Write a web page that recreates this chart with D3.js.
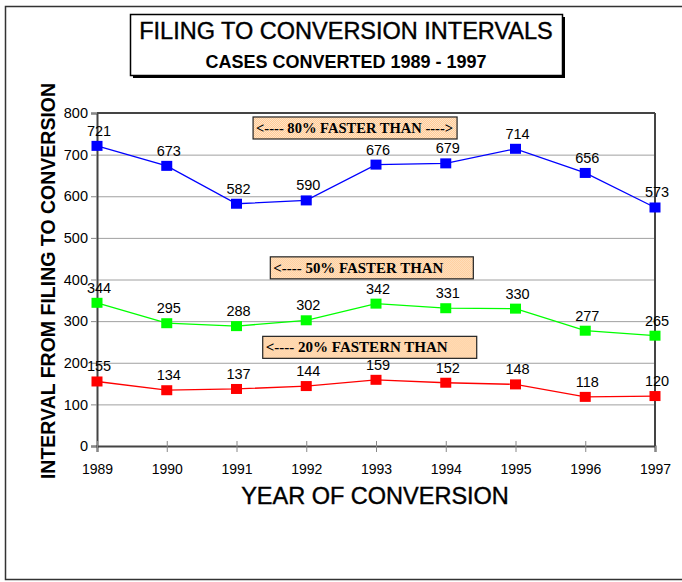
<!DOCTYPE html>
<meta charset="utf-8">
<style>
body { margin: 0; background: #fff; }
text { font-family: Arial, "Liberation Sans", sans-serif; }
.grid line { stroke: #a0a0a0; stroke-width: 1px; }
.anno text { font-family: "Liberation Serif", "DejaVu Serif", serif; font-weight: bold; }
</style>
<svg width="682" height="582"></svg>
<script src="https://cdn.jsdelivr.net/npm/d3@7/dist/d3.min.js"></script>
<script>

// data
var years = [1989, 1990, 1991, 1992, 1993, 1994, 1995, 1996, 1997];
var faster80 = [721, 673, 582, 590, 676, 679, 714, 656, 573];
var faster50 = [344, 295, 288, 302, 342, 331, 330, 277, 265];
var faster20 = [155, 134, 137, 144, 159, 152, 148, 118, 120];
var yTicks = [0, 100, 200, 300, 400, 500, 600, 700, 800];

// annotation labels, centred at (year, value)
var annoText = ["<---- 80% FASTER THAN ---->", "<---- 50% FASTER THAN", "<---- 20% FASTERN THAN"];
var annoYear = [1992.70, 1992.94, 1992.91];
var annoValue = [764, 428, 237];
var annoWidth = [204, 203, 214];
var annoTextW = [197, 170, 182];

var series = [
    {values: faster80, color: "#0000ff"},
    {values: faster50, color: "#00ff00"},
    {values: faster20, color: "#ff0000"}
];

var svg = d3.select("svg");

var x = d3.scaleLinear().domain([1989, 1997]).range([97, 655]);
var y = d3.scaleLinear().domain([0, 800]).range([446, 113]);

// outer frame
svg.append("rect")
    .attr("x", 5.5).attr("y", 6.5)
    .attr("width", 700).attr("height", 573)
    .attr("fill", "none").attr("stroke", "#333").attr("stroke-width", 1.5);

// title box with shadow
svg.append("rect")
    .attr("x", 133).attr("y", 17).attr("width", 432).attr("height", 61)
    .attr("fill", "#000");
svg.append("rect")
    .attr("x", 130.5).attr("y", 14.5).attr("width", 432).attr("height", 61)
    .attr("fill", "#fff").attr("stroke", "#000").attr("stroke-width", 1.5);
svg.append("text")
    .attr("x", 346).attr("y", 39)
    .attr("text-anchor", "middle")
    .style("font-size", "23.5px")
    .style("stroke", "#000").style("stroke-width", 0.4)
    .text("FILING TO CONVERSION INTERVALS");
svg.append("text")
    .attr("x", 346).attr("y", 68)
    .attr("text-anchor", "middle")
    .style("font-size", "18px").style("font-weight", "bold")
    .text("CASES CONVERTED 1989 - 1997");

// gridlines
svg.append("g")
    .attr("class", "grid")
    .selectAll("line")
    .data(yTicks.slice(1, -1))
    .enter().append("line")
    .attr("x1", x(1989)).attr("x2", x(1997))
    .attr("y1", function(d) { return y(d) + 0.5; })
    .attr("y2", function(d) { return y(d) + 0.5; });

// y axis
var yAxis = svg.append("g")
    .attr("transform", "translate(" + x(1989) + ",0)")
    .call(d3.axisLeft(y).tickValues(yTicks).tickSize(6).tickPadding(3));
yAxis.select(".domain").attr("stroke", "#444").attr("stroke-width", 2);
yAxis.selectAll(".tick line").attr("stroke", "#888");
yAxis.selectAll("text").style("font-size", "14.5px").attr("fill", "#000")
    .style("font-family", "Arial, 'Liberation Sans', sans-serif");

// x axis
var xAxis = svg.append("g")
    .attr("transform", "translate(0," + y(0) + ")")
    .call(d3.axisBottom(x).tickValues(years).tickFormat(d3.format("d")).tickSize(6).tickPadding(12));
xAxis.select(".domain").attr("stroke", "#444").attr("stroke-width", 2);
xAxis.selectAll(".tick line").attr("stroke", "#888").attr("y1", -5);
xAxis.selectAll("text").style("font-size", "14px").attr("fill", "#000")
    .style("font-family", "Arial, 'Liberation Sans', sans-serif");

// top and right frame of plot
svg.append("line")
    .attr("x1", x(1989)).attr("x2", x(1997))
    .attr("y1", y(800)).attr("y2", y(800))
    .attr("stroke", "#444").attr("stroke-width", 2);
svg.append("line")
    .attr("x1", x(1997)).attr("x2", x(1997))
    .attr("y1", y(800)).attr("y2", y(0))
    .attr("stroke", "#444").attr("stroke-width", 2);

// axis titles
svg.append("text")
    .attr("transform", "translate(55," + 281 + ") rotate(-90)")
    .attr("text-anchor", "middle")
    .style("font-size", "19.5px").style("font-weight", "bold")
    .text("INTERVAL FROM FILING TO CONVERSION");
svg.append("text")
    .attr("x", 375).attr("y", 504)
    .attr("text-anchor", "middle")
    .style("font-size", "23.5px")
    .style("stroke", "#000").style("stroke-width", 0.4)
    .text("YEAR OF CONVERSION");

// annotation boxes
var defs = svg.append("defs");
var pat = defs.append("pattern")
    .attr("id", "peach").attr("width", 2).attr("height", 2)
    .attr("patternUnits", "userSpaceOnUse");
pat.append("rect").attr("width", 2).attr("height", 2).attr("fill", "#ffe6cc");
pat.append("rect").attr("width", 1).attr("height", 1).attr("fill", "#ffc890");
pat.append("rect").attr("x", 1).attr("y", 1).attr("width", 1).attr("height", 1).attr("fill", "#ffc890");

var anno = svg.append("g").attr("class", "anno")
    .selectAll("g")
    .data(annoText)
    .enter().append("g")
    .attr("transform", function(d, i) {
        return "translate(" + x(annoYear[i]) + "," + y(annoValue[i]) + ")";
    });
anno.append("rect")
    .attr("x", function(d, i) { return -annoWidth[i] / 2; })
    .attr("y", -11)
    .attr("width", function(d, i) { return annoWidth[i]; })
    .attr("height", 22)
    .attr("fill", "url(#peach)")
    .attr("stroke", "#222").attr("stroke-width", 1.2);
anno.append("text")
    .attr("x", function(d, i) { return -annoWidth[i] / 2 + 3; })
    .attr("y", 5)
    .attr("textLength", function(d, i) { return annoTextW[i]; })
    .attr("lengthAdjust", "spacingAndGlyphs")
    .style("font-size", "15px")
    .text(function(d) { return d; });

// series lines, markers, labels
var line = d3.line()
    .x(function(d, i) { return x(years[i]); })
    .y(function(d) { return y(d); });

series.forEach(function(s) {
    svg.append("path")
        .datum(s.values)
        .attr("d", line)
        .attr("fill", "none")
        .attr("stroke", s.color)
        .attr("stroke-width", 1.3);

    svg.append("g")
        .selectAll("rect")
        .data(s.values)
        .enter().append("rect")
        .attr("x", function(d, i) { return x(years[i]) - 5.5; })
        .attr("y", function(d) { return y(d) - 5; })
        .attr("width", 11).attr("height", 10)
        .attr("fill", s.color);

    svg.append("g")
        .selectAll("text")
        .data(s.values)
        .enter().append("text")
        .attr("x", function(d, i) { return x(years[i]) + 2; })
        .attr("y", function(d) { return y(d) - 10; })
        .attr("text-anchor", "middle")
        .style("font-size", "14.5px")
        .text(function(d) { return d; });
});

</script>
